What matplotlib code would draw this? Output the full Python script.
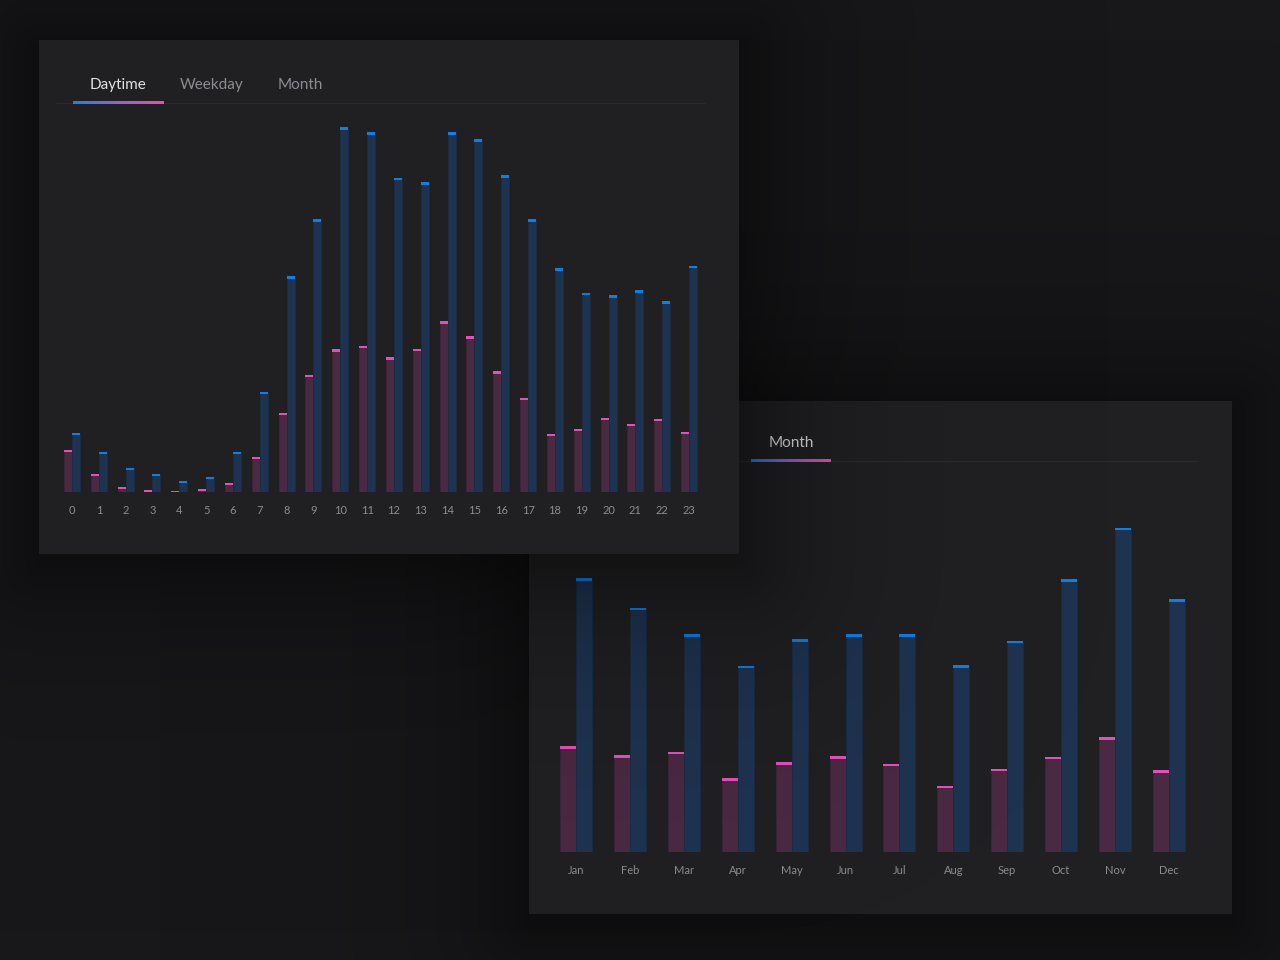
import numpy as np
import matplotlib
matplotlib.use("Agg")
import matplotlib.pyplot as plt
from matplotlib.patches import Rectangle

plt.rcParams["font.family"] = ["Lato", "DejaVu Sans"]

# --- data -------------------------------------------------------------------------------
hours = [str(h) for h in range(24)]
hour_blue = [59, 40, 24, 18, 11, 14.5, 40, 99.5, 215, 272, 364, 359, 313.5, 309, 359, 352,
             316, 272, 223, 198.5, 196, 201, 190, 225.5]
hour_pink = [42, 18, 4.5, 2, 0.3, 2.5, 8.5, 34.5, 79, 116.5, 142, 145.5, 134, 142.5, 170, 155,
             120, 93.5, 58, 62.5, 73.5, 67.5, 72.5, 60]

months = ["Jan", "Feb", "Mar", "Apr", "May", "Jun", "Jul", "Aug", "Sep", "Oct", "Nov", "Dec"]
month_blue = [273.4, 244, 217.4, 185.7, 212.4, 217.4, 217.4, 186.4, 211, 272.4, 323.7, 252.4]
month_pink = [105.4, 96.4, 100, 73.4, 89.4, 95.4, 88, 66, 82.7, 95, 114.4, 81.4]

top_tabs = ["Daytime", "Weekday", "Month"]
bottom_tabs = ["Month"]

# --- style ------------------------------------------------------------------------------
W, H = 1280, 960
BG = "#18181a"
PANEL = "#202022"
BLUE_FILL, BLUE_CAP = "#1e3350", "#0c80ea"
PINK_FILL, PINK_CAP = "#4a2942", "#e54fb9"
TAB_ON, TAB_OFF = "#e2e2e4", "#8b8b93"
TICK = "#8c8c91"
SEP = "#2a2a2d"


def px_rect(x0, y0, x1, y1):
    """pixel box (y from top) -> figure fraction [l, b, w, h]"""
    return [x0 / W, 1 - y1 / H, (x1 - x0) / W, (y1 - y0) / H]


def shadow_alpha(rect, amp, scale, off=8):
    x0, y0, x1, y1 = rect
    yy, xx = np.mgrid[0:H, 0:W] + 0.5
    dx = np.maximum(np.maximum(x0 - xx, xx - x1), 0)
    dy = np.maximum(np.maximum(y0 + off - yy, yy - (y1 + off)), 0)
    d = np.hypot(dx, dy)
    return amp * np.exp(-d / scale)


def overlay(fig, alpha, z):
    ax = fig.add_axes([0, 0, 1, 1], zorder=z)
    img = np.zeros((H, W, 4))
    img[..., 3] = alpha
    ax.imshow(img, extent=(0, W, H, 0), aspect="auto", interpolation="bilinear")
    ax.set_axis_off()
    return ax


def panel(fig, rect, z, tabs, active, tab_x, tab_base, line_x, line_y, under):
    x0, y0, x1, y1 = rect
    ax = fig.add_axes(px_rect(*rect), zorder=z)
    ax.set_axis_off()
    ax.add_patch(Rectangle((x0, y0), x1 - x0, y1 - y0, color=PANEL, lw=0, zorder=0))
    for name, tx in zip(tabs, tab_x):
        ax.text(tx, tab_base, name, ha="center", va="baseline", fontsize=11,
                color=TAB_ON if name == active else TAB_OFF)
    ax.plot(line_x, [line_y, line_y], color=SEP, lw=1, solid_capstyle="butt", zorder=2)
    grad = np.linspace(0, 1, 256)[None, :]
    cmap = matplotlib.colors.LinearSegmentedColormap.from_list(
        "tab", ["#1c80f2", "#9a5fd0", "#e84fb4"])
    ax.imshow(grad, cmap=cmap, extent=(under[0], under[1], line_y + 1, line_y - 1.2),
              aspect="auto", interpolation="bilinear", zorder=3)
    ax.set_xlim(x0, x1); ax.set_ylim(y1, y0)
    return ax


def bars(fig, box, z, labels, pink, blue, x_first, step, width_px, label_pad):
    x0, y0, x1, base_px = box
    top_val = base_px - y0          # one value unit per pixel
    ax = fig.add_axes(px_rect(x0, y0, x1, base_px), zorder=z)
    ax.patch.set_alpha(0)
    for s in ax.spines.values():
        s.set_visible(False)
    ax.set_xlim((x0 - x_first) / step, (x1 - x_first) / step)
    ax.set_ylim(0, top_val)
    w = width_px / step
    cap = 2.2
    x = np.arange(len(labels))
    pink = np.asarray(pink); blue = np.asarray(blue)
    ax.bar(x - w / 2, pink, w, color=PINK_FILL, edgecolor="#3f2338", lw=0.6)
    ax.bar(x + w / 2, blue, w, color=BLUE_FILL, edgecolor="#1a2c45", lw=0.6)
    ax.bar(x - w / 2, np.minimum(cap, pink), w, bottom=np.maximum(pink - cap, 0),
           color=PINK_CAP, lw=0)
    ax.bar(x + w / 2, np.minimum(cap, blue), w, bottom=np.maximum(blue - cap, 0),
           color=BLUE_CAP, lw=0)
    ax.set_xticks(x, labels)
    ax.set_yticks([])
    ax.tick_params(axis="x", length=0, pad=label_pad, labelsize=8, labelcolor=TICK)
    return ax


fig = plt.figure(figsize=(W / 100, H / 100), dpi=100, facecolor=BG)

TOP = (39, 40, 739, 554)
BOT = (529, 401, 1232, 914)

overlay(fig, shadow_alpha(BOT, 0.4, 80), 0)

panel(fig, BOT, 1, bottom_tabs, "Month", [791], 447.5, [545, 1198], 461.5, (751, 831))
bars(fig, (540, 500, 1215, 851.7), 2, months, month_pink, month_blue, 576, 53.9, 16, 9.5)

overlay(fig, shadow_alpha(TOP, 0.4, 80), 2.5)

panel(fig, TOP, 3, top_tabs, "Daytime", [118, 212, 300], 89, [56, 705], 103, (73, 164))
bars(fig, (56, 110, 705, 491.5), 4, hours, hour_pink, hour_blue, 72, 26.83, 8, 10)

fig.savefig("out.png", dpi=100, facecolor=BG)
